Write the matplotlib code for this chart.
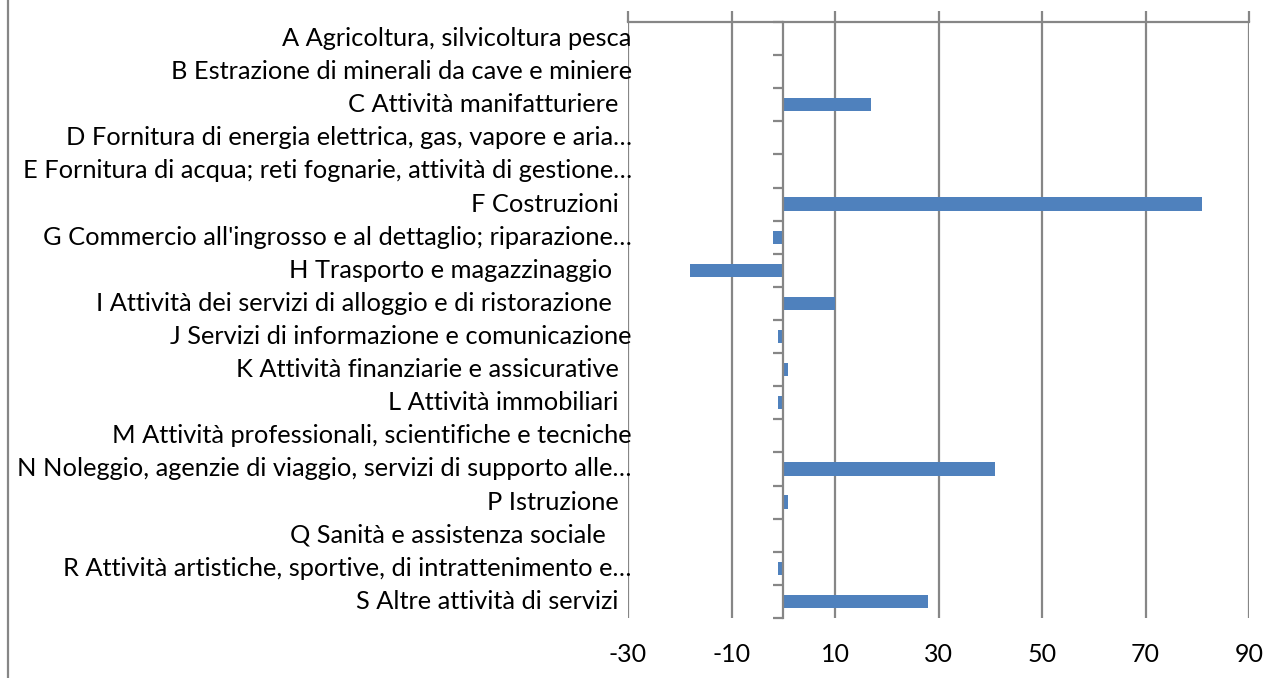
import numpy as np
import matplotlib.pyplot as plt
from matplotlib.lines import Line2D

plt.rcParams['font.family'] = ['Lato', 'DejaVu Sans']
plt.rcParams['axes.unicode_minus'] = False

# Dati (variazione per settore)
settori = [
    "A Agricoltura, silvicoltura pesca",
    "B Estrazione di minerali da cave e miniere",
    "C Attività manifatturiere  ",
    "D Fornitura di energia elettrica, gas, vapore e aria…",
    "E Fornitura di acqua; reti fognarie, attività di gestione…",
    "F Costruzioni  ",
    "G Commercio all'ingrosso e al dettaglio; riparazione…",
    "H Trasporto e magazzinaggio   ",
    "I Attività dei servizi di alloggio e di ristorazione   ",
    "J Servizi di informazione e comunicazione",
    "K Attività finanziarie e assicurative  ",
    "L Attività immobiliari  ",
    "M Attività professionali, scientifiche e tecniche",
    "N Noleggio, agenzie di viaggio, servizi di supporto alle…",
    "P Istruzione  ",
    "Q Sanità e assistenza sociale    ",
    "R Attività artistiche, sportive, di intrattenimento e…",
    "S Altre attività di servizi  ",
]
valori = [0, 0, 17, 0, 0, 81, -2, -18, 10, -1, 1, -1, 0, 41, 1, 0, -1, 28]
xticks = [-30, -10, 10, 30, 50, 70, 90]

grigio = '#868686'
blu = '#4F81BD'

fig = plt.figure(figsize=(12.77, 6.78), dpi=100)
ax = fig.add_axes([628 / 1277, 1 - 618 / 678, 621 / 1277, 596 / 678])

y = np.arange(len(settori))
ax.barh(y, valori, height=0.4, color=blu, zorder=3)

ax.set_xlim(-30, 90)
ax.set_ylim(len(settori) - 0.5, -0.5)
ax.set_xticks(xticks)
ax.grid(axis='x', color=grigio, linewidth=1.6, zorder=0)

# asse verticale in x=0 con tacche tra le categorie
for s in ['right', 'bottom']:
    ax.spines[s].set_visible(False)
ax.spines['left'].set_position(('data', 0))
ax.spines['left'].set_color(grigio)
ax.spines['left'].set_linewidth(1.6)
ax.spines['left'].set_zorder(4)
ax.spines['top'].set_color(grigio)
ax.spines['top'].set_linewidth(1.6)
ax.set_yticks(np.arange(-0.5, len(settori), 1))
ax.set_yticklabels([])
ax.tick_params(axis='y', length=7, width=1.6, color=grigio, direction='out')
ax.tick_params(axis='x', top=True, bottom=False, labeltop=False, labelbottom=True,
               length=8, width=1.6, color=grigio, pad=10, labelsize=18)

# etichette delle categorie
for i, s in enumerate(settori):
    ax.text(0.006, i, s, transform=ax.get_yaxis_transform(), ha='right', va='center',
            fontsize=18.3)

# bordo sinistro dell'area del grafico
fig.add_artist(Line2D([7.5 / 1277, 7.5 / 1277], [0, 1], transform=fig.transFigure,
                      color=grigio, linewidth=1.6))

fig.savefig('out.png', dpi=100)
